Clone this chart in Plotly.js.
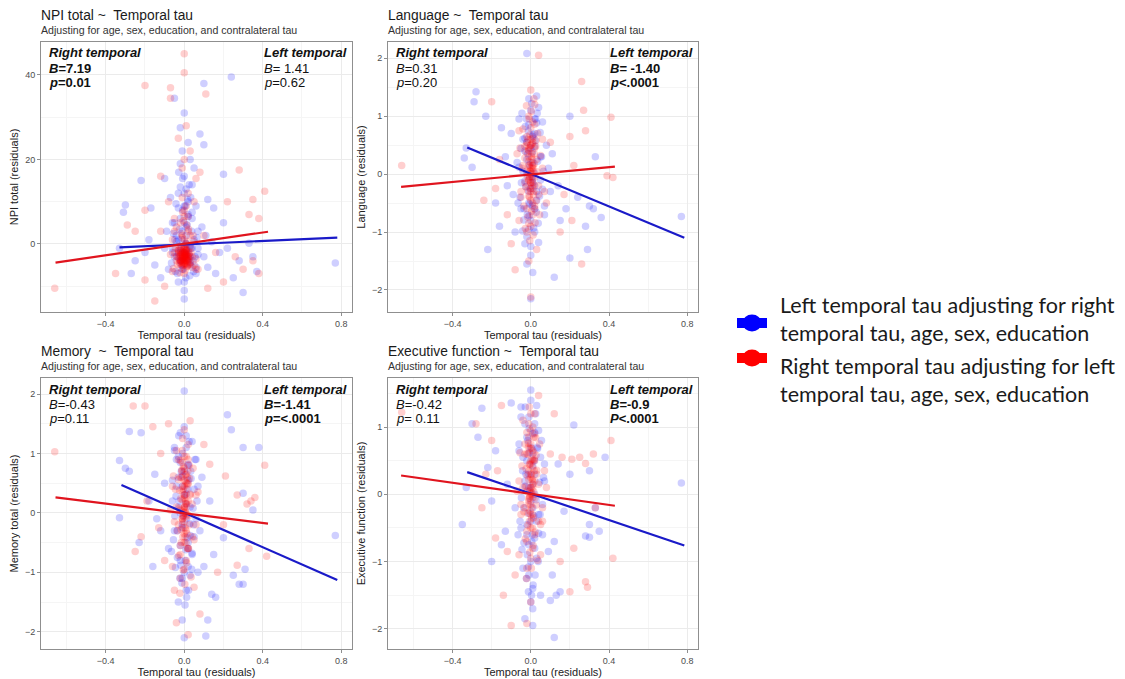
<!DOCTYPE html>
<html>
<head>
<meta charset="utf-8">
<script src="https://cdn.plot.ly/plotly-3.0.1.min.js"></script>
<style>html,body{margin:0;padding:0;background:#fff;}#chart{width:1125px;height:679px;}</style>
</head>
<body>
<div id="chart"></div>
<script>
// ---------------- DATA ----------------
const panelTitles = ["NPI total ~  Temporal tau", "Language ~  Temporal tau", "Memory  ~  Temporal tau", "Executive function ~  Temporal tau"];
const subtitle = "Adjusting for age, sex, education, and contralateral tau";
const xTitle = "Temporal tau (residuals)";
const yTitles = ["NPI total (residuals)", "Language (residuals)", "Memory total (residuals)", "Executive function (residuals)"];
const legendLabels = ["Left temporal tau adjusting for right<br>temporal tau, age, sex, education", "Right temporal tau adjusting for left<br>temporal tau, age, sex, education"];

const rightStats = [
  ["<b><i>Right temporal</i></b>", "<b><i>B</i>=7.19</b>", "<b><i>p</i>=0.01</b>"],
  ["<b><i>Right temporal</i></b>", "<i>B</i>=0.31", "<i>p</i>=0.20"],
  ["<b><i>Right temporal</i></b>", "<i>B</i>=-0.43", "<i>p</i>=0.11"],
  ["<b><i>Right temporal</i></b>", "<i>B</i>=-0.42", "<i>p</i>= 0.11"]
];
const leftStats = [
  ["<b><i>Left temporal</i></b>", "<i>B</i>= 1.41", "<i>p</i>=0.62"],
  ["<b><i>Left temporal</i></b>", "<b><i>B</i>= -1.40</b>", "<b><i>p</i>&lt;.0001</b>"],
  ["<b><i>Left temporal</i></b>", "<b><i>B</i>=-1.41</b>", "<b><i>p</i>=&lt;.0001</b>"],
  ["<b><i>Left temporal</i></b>", "<b><i>B</i>=-0.9</b>", "<b><i>P</i>&lt;.0001</b>"]
];

// regression line end points [x,y]
const npiLeftLine = [[-0.33,-0.8],[0.78,1.5]];
const npiRightLine = [[-0.656,-4.4],[0.427,2.9]];
const langLeftLine = [[-0.325,0.46],[0.785,-1.1]];
const langRightLine = [[-0.663,-0.22],[0.43,0.13]];
const memLeftLine = [[-0.32,0.47],[0.78,-1.13]];
const memRightLine = [[-0.656,0.26],[0.427,-0.18]];
const execLeftLine = [[-0.325,0.33],[0.785,-0.76]];
const execRightLine = [[-0.663,0.28],[0.43,-0.17]];

// scatter points [x,y] — spread points
const npiLeftPts = [[0.77,-4.5],[-0.33,-1],[-0.3,9.2],[-0.31,7.5],[-0.27,-7],[0.24,39.5],[0.1,38],[0.0,31],[-0.05,34.5],[0.08,26],[0.1,23.5],[0.02,24],[-0.02,27.5],[0.05,18],[0.2,16.5],[0.12,10.5],[0.15,8.5],[-0.1,15.5],[-0.22,15],[-0.17,8.5],[-0.2,-2],[-0.15,-5],[-0.12,-8],[0.3,-11.5],[0.28,-4],[0.25,-8],[0.33,0.2],[0.35,-3],[0.37,-6.5],[0.18,-2],[0.22,-1],[-0.25,-4],[0.0,-11],[0.0,-13],[-0.03,-9],[0.06,-7],[0.12,-5.5],[-0.08,-6],[0.14,0.5],[0.09,4],[-0.06,5],[0.04,6],[-0.03,8.5],[0.01,13],[0.0,16],[-0.02,19],[0.03,20],[-0.01,22],[0.0,12],[0.02,10],[-0.04,2],[0.05,1],[-0.06,-1],[0.07,-2.5],[0.03,-5],[-0.02,-4],[0.0,-2],[0.01,0],[-0.01,3],[0.02,7],[-0.05,-3],[0.1,-3],[-0.1,-1],[0.16,-7],[0.07,3],[0.0,5],[-0.01,-6],[0.04,-1],[-0.03,1],[0.11,2],[-0.09,3],[0.06,9],[-0.07,11],[0.04,14],[0.2,5],[-0.18,1],[0.03,-3],[-0.02,-1.5],[0.01,4],[0.0,9]];
const npiRightPts = [[-0.66,-10.5],[-0.2,37.5],[-0.07,37],[0.0,45],[-0.07,34.5],[0.11,35.5],[0.0,40.5],[0.01,28],[-0.03,25],[0.03,22],[0.08,17],[0.06,15.5],[0.28,17.5],[0.22,10],[0.35,10.5],[0.41,12.5],[0.33,7],[0.38,6],[-0.12,16],[-0.08,10],[-0.2,8],[-0.29,4.5],[-0.25,3],[-0.35,-7],[-0.2,-8.5],[-0.15,-13.5],[-0.1,-10],[0.12,-10.5],[0.2,-9],[0.3,-6],[0.38,-7],[0.35,-4],[0.26,-3],[0.16,-2],[0.1,2],[-0.12,3],[-0.05,6],[0.0,8],[0.02,12],[-0.01,18],[0.0,20],[0.05,10],[-0.04,4],[0.03,2],[0,-3],[0.01,-2.5],[-0.01,-3.5],[0.02,-4],[-0.02,-2],[0,-4.5],[0.01,-1.5],[-0.01,-5],[0.02,-3],[-0.02,-4],[0,-2],[0.01,-3.8],[-0.01,-2.8],[0.015,-5.2],[-0.015,-1],[0,-0.5],[0.005,-3.2],[-0.005,-4.2],[0.025,-2.2],[-0.025,-3.6],[0,1],[0.01,0],[-0.01,2],[0.03,-1],[-0.03,-1.5],[0.04,-3],[-0.04,-4],[0.05,-5],[-0.05,-2],[0.06,-6],[-0.06,-6.5],[0.0,-7],[0.02,3],[-0.02,5],[0.0,6.5],[0.01,9],[-0.01,11],[0.005,-2.6],[-0.005,-3.9],[0.012,-4.6],[-0.012,-2.4],[0.0,-3.4]];
const langLeftPts = [[0.77,-0.73],[-0.33,0.45],[-0.34,0.28],[-0.3,0.12],[-0.28,1.42],[-0.29,1.25],[-0.23,1.0],[-0.22,-1.3],[-0.18,-0.5],[-0.15,0.8],[-0.12,-0.2],[-0.1,0.7],[0.2,1.0],[0.12,-1.78],[0.2,-1.45],[0.29,-1.3],[0.3,-0.55],[0.32,-0.6],[0.33,0.3],[0.36,-0.75],[0.28,-0.9],[0.24,-0.4],[0.18,-0.6],[0.15,-0.8],[0.1,-0.3],[0.08,0.5],[0.06,0.9],[-0.06,0.95],[-0.02,2.08],[0.03,1.35],[-0.01,1.3],[0.0,1.1],[0.02,0.7],[-0.03,0.4],[0.01,0.2],[-0.02,0],[0.03,-0.3],[-0.01,-0.5],[0.0,-0.8],[0.02,-1.0],[-0.03,-1.2],[0.0,-1.4],[-0.02,-1.55],[0.0,-2.15],[0.01,-1.7],[-0.05,-0.6],[0.05,-0.1],[-0.07,0.2],[0.07,-0.7],[-0.08,-1.0],[0.09,0.1],[-0.04,0.6],[0.04,1.15],[-0.01,0.85],[0.01,-0.15],[0.0,0.45],[-0.02,0.55],[0.02,-0.6],[0.11,0.35],[-0.13,0.3],[0.14,-0.2],[-0.16,-0.9],[-0.09,-0.35],[0.05,0.3],[0.0,-0.25],[0.01,0.65],[-0.01,-0.95],[0.02,0.95]];
const langRightPts = [[-0.66,0.15],[0.04,2.05],[0.26,1.6],[0.41,0.98],[0.42,-0.06],[0.39,-0.03],[0.27,1.1],[0.28,0.75],[0.2,0.65],[0.22,0.15],[0.17,-0.35],[0.21,-0.8],[0.26,-1.55],[0.15,-1.0],[-0.08,-1.65],[-0.2,1.25],[-0.16,0.25],[-0.18,-0.25],[-0.24,-0.45],[-0.12,-0.7],[-0.1,-1.2],[-0.06,0.75],[0.0,-2.12],[-0.01,-1.5],[0.03,-1.3],[0.1,0.55],[0.08,-0.5],[-0.05,-0.3],[0.06,0.1],[0,0],[0.01,0.1],[-0.01,-0.1],[0.0,0.2],[0.005,-0.2],[-0.005,0.05],[0.01,-0.05],[-0.01,0.3],[0.0,-0.3],[0.02,0.45],[-0.02,0.5],[0.0,0.6],[0.01,0.55],[-0.01,0.4],[0.0,-0.45],[0.02,-0.55],[-0.02,-0.6],[0.01,-0.7],[0.0,0.8],[-0.01,1.0],[0.02,1.2],[0.0,-0.9],[-0.01,-0.85],[0.03,0.25],[-0.03,-0.15],[0.04,-0.35],[-0.04,0.15],[0.0,1.45],[0.01,0.9],[-0.02,-1.0],[0.005,0.02],[-0.005,-0.04],[0.0,0.5],[0.01,-0.25],[-0.01,0.15]];
const memLeftPts = [[0.77,-0.38],[-0.33,-0.08],[-0.33,0.88],[-0.3,0.75],[-0.28,0.7],[-0.28,1.37],[-0.23,-0.5],[-0.22,1.35],[-0.18,0.2],[-0.15,0.65],[-0.12,-0.3],[-0.1,0.5],[0.22,1.65],[0.24,1.4],[0.3,1.1],[0.38,1.1],[0.35,0.05],[0.3,0.33],[0.3,-1.2],[0.28,-1.2],[0.25,-1.05],[0.31,-0.95],[0.2,-0.42],[0.16,-1.42],[0.14,-1.37],[0.1,-0.9],[0.12,-1.8],[0.11,-2.07],[0.08,-0.3],[0.06,0.9],[-0.05,1.1],[0.0,2.05],[-0.02,1.35],[0.01,1.1],[0.02,0.8],[-0.03,0.6],[0.0,0.3],[0.03,0.1],[-0.01,-0.2],[0.02,-0.5],[-0.02,-0.8],[0.0,-1.0],[0.01,-1.3],[-0.03,-1.5],[0.0,-2.1],[-0.01,-1.8],[0.04,-0.7],[-0.05,-0.3],[0.05,0.4],[-0.06,0.2],[0.07,-1.0],[-0.08,-0.6],[0.09,0.6],[-0.04,0.9],[0.04,1.2],[-0.01,0.45],[0.01,-0.1],[-0.02,0.0],[0.02,-0.9],[0.13,0.2],[-0.14,-0.1],[0.15,-0.7],[-0.16,-0.9],[0.05,-0.4],[0.0,0.7],[0.01,1.3],[-0.01,-1.1],[0.02,0.55]];
const memRightPts = [[-0.66,1.03],[-0.26,1.8],[-0.2,1.8],[-0.16,1.45],[-0.19,0.2],[-0.22,-0.4],[-0.25,-0.65],[-0.13,-0.25],[-0.12,1.0],[-0.08,1.5],[0.03,1.55],[0.1,1.15],[0.13,0.82],[0.21,0.62],[0.27,0.3],[0.32,0.15],[0.34,0.2],[0.36,0.26],[0.41,0.8],[0.42,-0.73],[0.33,-0.6],[0.27,-0.88],[0.2,-0.2],[0.17,-1.0],[0.08,-1.7],[-0.04,-1.85],[0.02,-2.05],[-0.05,-1.3],[0.05,-1.25],[-0.1,-0.8],[0.06,0.3],[-0.06,0.45],[0,0],[0.01,0.1],[-0.01,-0.1],[0,0.25],[0.005,-0.25],[-0.005,0.05],[0.01,-0.05],[-0.01,0.35],[0,-0.35],[0.02,0.5],[-0.02,0.6],[0,0.75],[0.01,0.65],[-0.01,0.85],[0,-0.5],[0.02,-0.6],[-0.02,-0.7],[0.01,-0.8],[0,0.95],[-0.01,1.05],[0.02,0.2],[0,-0.95],[-0.01,-0.15],[0.03,0.3],[-0.03,-0.2],[0.04,-0.4],[-0.04,0.1],[0,1.4],[0.01,0.4],[-0.02,-1.1],[0.005,0.02],[-0.005,-0.03],[0,0.55],[0.01,-0.3]];
const execLeftPts = [[0.77,0.17],[-0.33,0.1],[-0.35,-0.45],[-0.3,1.05],[-0.27,0.85],[-0.25,1.28],[-0.22,0.4],[-0.2,-0.1],[-0.18,0.65],[-0.15,-0.75],[-0.2,-1.0],[-0.1,1.36],[0.22,1.03],[0.3,0.35],[0.38,0.55],[0.33,-0.2],[0.3,-0.45],[0.28,-0.62],[0.3,-0.64],[0.35,-0.55],[0.2,0.3],[0.17,-0.25],[0.13,-1.5],[0.12,-0.7],[0.11,-1.2],[0.15,-1.45],[0.1,-1.58],[0.12,-2.13],[0.05,-1.5],[-0.05,1.3],[0.0,1.55],[0.03,1.32],[-0.01,1.15],[0.01,0.9],[0.0,0.7],[-0.02,0.5],[0.02,0.3],[-0.01,0.1],[0.01,-0.2],[0.0,-0.4],[-0.02,-0.6],[0.02,-0.8],[0.0,-1.0],[-0.01,-1.2],[0.01,-1.4],[0.0,-1.6],[-0.03,-1.85],[0.01,-1.95],[0.04,-0.3],[-0.05,-0.5],[0.05,0.55],[-0.06,0.75],[0.07,0.2],[-0.08,-0.2],[0.09,-0.85],[-0.04,-1.1],[0.04,0.95],[-0.01,0.3],[0.02,0.0],[-0.03,0.2],[0.06,-0.6],[-0.12,0.15],[0.14,0.45],[-0.13,-0.55],[0.0,-0.1],[0.01,0.6],[-0.01,-0.75],[0.02,1.05]];
const execRightPts = [[-0.66,1.22],[-0.28,1.05],[-0.15,1.32],[-0.2,0.8],[-0.17,0.35],[-0.23,0.3],[-0.25,-0.2],[-0.18,-0.65],[-0.12,-0.85],[-0.14,-1.5],[-0.1,-1.95],[-0.08,-1.2],[0.04,1.47],[0.1,0.6],[0.12,1.2],[0.16,0.55],[0.21,0.52],[0.25,0.55],[0.28,0.46],[0.32,0.6],[0.41,0.8],[0.42,-0.95],[0.33,-0.2],[0.28,-1.3],[0.29,-1.38],[0.2,-1.45],[0.22,-0.8],[0.15,-1.0],[0.05,-0.9],[-0.02,-1.92],[0.0,-1.6],[0.08,0.1],[-0.06,0.2],[0.06,-0.4],[-0.05,-0.3],[0,0],[0.01,0.1],[-0.01,-0.1],[0,0.25],[0.005,-0.2],[-0.005,0.05],[0.01,-0.05],[-0.01,0.35],[0,-0.3],[0.02,0.5],[-0.02,0.6],[0,0.75],[0.01,0.65],[-0.01,0.85],[0,-0.5],[0.02,-0.6],[-0.02,-0.7],[0.01,-0.8],[0,0.95],[-0.01,1.05],[0.02,0.2],[0,-0.95],[-0.01,-0.15],[0.03,0.3],[-0.03,-0.2],[0.04,-0.4],[-0.04,0.1],[0,1.2],[0.01,0.4],[-0.02,-1.1],[0.005,0.02],[-0.005,-0.03],[0,0.5],[0.01,-0.3]];

// dense central column of points [x,y]
const npiLeftCore = [[-0.03,-2],[0.02,-3.5],[-0.015,-5],[0.035,-1],[-0.04,0.5],[0.01,2],[-0.025,3.5],[0.045,-4],[-0.005,-6],[0.028,-7.5],[-0.036,-3],[0.015,4.5],[-0.02,6],[0.04,7.5],[0.005,9],[-0.045,-6.5],[0.03,-0.5],[-0.012,1],[0.022,-2.5],[-0.05,5],[0.055,-3],[-0.008,8],[0.018,10.5],[-0.03,12],[0.06,-5.5],[-0.055,2.5],[0.008,-8],[-0.018,-4],[0.038,3],[-0.042,9.5],[0.025,14],[-0.028,17],[0.012,-1.5],[-0.06,-2],[0.065,1.5],[-0.01,-3.2],[0.03,-4.5],[-0.035,-7],[0.0,-9],[0.02,6.5],[-0.02,13.5],[0.048,-6.5],[-0.048,1],[0.008,0.2],[-0.065,-4.5],[0.07,-1],[0.004,-2.2],[-0.022,-1],[0.033,11],[-0.008,15.5]];
const npiRightCore = [[0.01,-3],[-0.02,-2.5],[0.025,-3.6],[-0.012,-4.2],[0.005,-1.8],[-0.03,-3.2],[0.018,-5],[-0.006,-2],[0.03,-4.4],[-0.018,-5.6],[0.008,-1.2],[-0.025,-0.5],[0.015,0.5],[-0.01,1.5],[0.028,-2.8],[-0.035,-4.8],[0.004,-6.2],[-0.015,2.5],[0.022,3.5],[-0.028,-1.5],[0.012,4.5],[-0.005,5.5],[0.035,-2],[-0.04,-3],[0.02,6.5],[-0.008,7.5],[0.003,-0.8],[-0.022,-6.8],[0.016,-3.8],[0.04,-5.5],[-0.045,-1],[0.05,0.5],[-0.05,3],[0.0,-2.6],[0.012,-3.4],[-0.012,-2.2],[0.006,-4.6],[-0.003,-3.6],[0.02,-1.6],[-0.02,-4.4],[0.0,-3.8],[0.008,-2.4],[-0.006,-5.2],[0.0,-1.2],[0.045,2],[-0.055,-5.8],[0.06,-3.5],[-0.06,1],[0.07,-6],[-0.07,-2.5]];
const langLeftCore = [[-0.03,0.62],[0.02,0.48],[-0.015,0.35],[0.035,0.22],[-0.04,0.05],[0.01,-0.08],[-0.025,-0.22],[0.045,-0.38],[-0.005,-0.52],[0.028,-0.66],[-0.036,-0.79],[0.015,-0.93],[-0.02,-1.08],[0.04,-1.18],[0.005,1.22],[-0.045,1.05],[0.03,0.88],[-0.012,0.74],[0.022,0.58],[-0.05,0.44],[0.055,0.3],[-0.008,0.16],[0.018,0.02],[-0.03,-0.12],[0.06,-0.26],[-0.055,-0.4],[0.008,-0.55],[-0.018,-0.7],[0.038,-0.85],[-0.042,-0.98],[0.025,0.95],[-0.028,0.82],[0.012,0.68],[-0.06,0.12],[0.065,0.05],[-0.01,-0.3],[0.03,-0.45],[-0.035,-0.6],[0.0,-1.25],[0.02,-0.2],[-0.02,0.25],[0.048,0.72],[-0.048,-0.15],[0.008,0.38],[-0.065,-0.5],[0.07,-0.55],[0.004,-0.05],[-0.022,0.95],[0.033,1.05],[-0.008,-0.72]];
const langRightCore = [[0.01,0.62],[-0.02,0.55],[0.025,0.48],[-0.012,0.42],[0.005,0.35],[-0.03,0.28],[0.018,0.18],[-0.006,0.12],[0.03,0.04],[-0.018,-0.04],[0.008,-0.14],[-0.025,-0.22],[0.015,-0.3],[-0.01,-0.38],[0.028,-0.46],[-0.035,-0.55],[0.004,-0.64],[-0.015,-0.74],[0.022,-0.84],[-0.028,-0.94],[0.012,-1.05],[-0.005,-1.15],[0.035,0.7],[-0.04,0.78],[0.02,0.86],[-0.008,0.95],[0.003,1.08],[-0.022,1.18],[0.016,1.3],[0.04,-0.2],[-0.045,0.1],[0.05,0.32],[-0.05,-0.4],[0.0,0.5],[0.012,0.05],[-0.012,-0.1],[0.006,0.25],[-0.003,-0.25],[0.02,-0.6],[-0.02,0.65],[0.0,0.05],[0.008,0.15],[-0.006,-0.05],[0.0,-0.15],[0.045,-0.7],[-0.055,0.45],[0.06,0.6],[-0.06,-0.8],[0.07,-0.3],[-0.07,0.35]];
const memLeftCore = [[-0.03,0.95],[0.02,0.82],[-0.015,0.7],[0.035,0.58],[-0.04,0.45],[0.01,0.32],[-0.025,0.2],[0.045,0.08],[-0.005,-0.05],[0.028,-0.18],[-0.036,-0.3],[0.015,-0.42],[-0.02,-0.55],[0.04,-0.68],[0.005,-0.8],[-0.045,-0.92],[0.03,-1.05],[-0.012,-1.18],[0.022,-1.3],[-0.05,1.05],[0.055,0.9],[-0.008,0.62],[0.018,0.4],[-0.03,0.1],[0.06,-0.1],[-0.055,-0.45],[0.008,-0.62],[-0.018,-0.88],[0.038,-0.95],[-0.042,0.28],[0.025,1.2],[-0.028,1.3],[0.012,-1.42],[-0.06,0.55],[0.065,0.2],[-0.01,-0.25],[0.03,-0.38],[-0.035,-0.75],[0.0,1.45],[0.02,-0.6],[-0.02,0.85],[0.048,-0.2],[-0.048,-0.05],[0.008,0.15],[-0.065,-0.65],[0.07,0.45],[0.004,-1.55],[-0.022,-1.1],[0.033,0.7],[-0.008,1.0]];
const memRightCore = [[0.01,0.95],[-0.02,0.88],[0.025,0.8],[-0.012,0.72],[0.005,0.64],[-0.03,0.56],[0.018,0.48],[-0.006,0.4],[0.03,0.32],[-0.018,0.24],[0.008,0.16],[-0.025,0.08],[0.015,-0.02],[-0.01,-0.1],[0.028,-0.2],[-0.035,-0.3],[0.004,-0.4],[-0.015,-0.5],[0.022,-0.6],[-0.028,-0.72],[0.012,-0.84],[-0.005,-0.96],[0.035,-1.08],[-0.04,1.05],[0.02,1.15],[-0.008,1.25],[0.003,-1.2],[-0.022,-1.35],[0.016,0.6],[0.04,0.15],[-0.045,0.4],[0.05,-0.45],[-0.05,-0.15],[0.0,0.3],[0.012,0.5],[-0.012,0.7],[0.006,0.0],[-0.003,-0.25],[0.02,0.9],[-0.02,-0.55],[0.0,0.1],[0.008,0.2],[-0.006,-0.05],[0.0,0.45],[0.045,0.75],[-0.055,0.62],[0.06,-0.2],[-0.06,-0.9],[0.07,0.35],[-0.07,0.05]];
const execLeftCore = [[-0.03,1.05],[0.02,0.92],[-0.015,0.8],[0.035,0.68],[-0.04,0.55],[0.01,0.42],[-0.025,0.3],[0.045,0.18],[-0.005,0.05],[0.028,-0.08],[-0.036,-0.2],[0.015,-0.32],[-0.02,-0.45],[0.04,-0.58],[0.005,-0.7],[-0.045,-0.82],[0.03,-0.95],[-0.012,-1.08],[0.022,-1.2],[-0.05,1.15],[0.055,0.8],[-0.008,0.62],[0.018,0.5],[-0.03,0.12],[0.06,-0.15],[-0.055,-0.4],[0.008,-0.6],[-0.018,-0.9],[0.038,-1.0],[-0.042,0.35],[0.025,1.2],[-0.028,1.3],[0.012,-1.35],[-0.06,0.65],[0.065,0.25],[-0.01,-0.28],[0.03,-0.4],[-0.035,-0.72],[0.0,1.4],[0.02,-0.65],[-0.02,0.85],[0.048,-0.3],[-0.048,-0.05],[0.008,0.15],[-0.065,-0.6],[0.07,0.45],[0.004,-1.5],[-0.022,-1.25],[0.033,0.7],[-0.008,0.98],[0.01,-1.7],[-0.012,-1.45]];
const execRightCore = [[0.01,1.0],[-0.02,0.92],[0.025,0.84],[-0.012,0.76],[0.005,0.68],[-0.03,0.6],[0.018,0.52],[-0.006,0.44],[0.03,0.36],[-0.018,0.28],[0.008,0.2],[-0.025,0.12],[0.015,0.04],[-0.01,-0.06],[0.028,-0.16],[-0.035,-0.26],[0.004,-0.36],[-0.015,-0.46],[0.022,-0.56],[-0.028,-0.66],[0.012,-0.76],[-0.005,-0.86],[0.035,-0.98],[-0.04,1.1],[0.02,1.2],[-0.008,1.3],[0.003,-1.1],[-0.022,-1.25],[0.016,0.62],[0.04,0.15],[-0.045,0.42],[0.05,-0.45],[-0.05,-0.15],[0.0,0.3],[0.012,0.5],[-0.012,0.7],[0.006,0.0],[-0.003,-0.25],[0.02,0.9],[-0.02,-0.55],[0.0,0.1],[0.008,0.22],[-0.006,-0.05],[0.0,0.45],[0.045,0.75],[-0.055,0.62],[0.06,-0.2],[-0.06,-0.9],[0.07,0.35],[-0.07,0.05]];

// densest red centre [x,y]
const npiRightDense = [[0.004,-2.9],[-0.008,-3.3],[0.012,-2.1],[-0.014,-3.9],[0.018,-4.1],[-0.02,-2.7],[0.0,-4.9],[0.007,-1.6],[-0.01,-1.9],[0.022,-3.1],[-0.024,-4.5],[0.014,-5.4],[-0.004,-0.9],[0.009,-3.7],[-0.016,-3.0],[0.027,-4.8],[-0.03,-2.3],[0.001,-2.3],[0.016,-2.7],[-0.007,-4.6]];
const langRightDense = [[0.004,0.3],[-0.008,0.45],[0.012,0.15],[-0.014,0.6],[0.018,0.35],[-0.02,0.05],[0.0,-0.15],[0.007,0.52],[-0.01,0.22],[0.022,-0.05],[-0.024,0.38],[0.014,-0.35],[-0.004,0.68],[0.009,-0.5],[-0.016,-0.28],[0.027,0.58],[-0.03,0.48],[0.001,0.1],[0.016,-0.18],[-0.007,-0.4]];
const memRightDense = [[0.004,0.3],[-0.008,0.45],[0.012,0.15],[-0.014,0.6],[0.018,0.7],[-0.02,0.05],[0.0,-0.15],[0.007,0.52],[-0.01,0.22],[0.022,-0.05],[-0.024,0.38],[0.014,-0.35],[-0.004,0.78],[0.009,-0.5],[-0.016,-0.28],[0.027,0.58],[-0.03,0.9],[0.001,0.1],[0.016,-0.6],[-0.007,-0.4]];
const execRightDense = [[0.004,0.3],[-0.008,0.45],[0.012,0.15],[-0.014,0.6],[0.018,0.35],[-0.02,0.05],[0.0,-0.15],[0.007,0.52],[-0.01,0.22],[0.022,-0.05],[-0.024,0.38],[0.014,-0.35],[-0.004,0.68],[0.009,-0.5],[-0.016,-0.28],[0.027,0.58],[-0.03,0.75],[0.001,0.1],[0.016,0.85],[-0.007,-0.4]];

const yRanges = [[-16.1,47.8],[-2.38,2.28],[-2.29,2.27],[-2.30,1.73]];
const yDticks = [20,1,1,1];
const xRange = [-0.73,0.855];

// ---------------- LAYOUT / DRAW ----------------
const W = 1125, H = 679;
const PX = x => x / W;
const PY = y => 1 - y / H;
const BLUE = '#0000ff', RED = '#ff0000';
const LBLUE = '#1a1ac8', LRED = '#e0141e';

const boxes = [[41,352,42,312],[388,698,42,312],[41,352,378,649],[388,698,378,649]];
const leftSets = [npiLeftPts.concat(npiLeftCore), langLeftPts.concat(langLeftCore), memLeftPts.concat(memLeftCore), execLeftPts.concat(execLeftCore)];
const rightSets = [npiRightPts.concat(npiRightCore, npiRightDense), langRightPts.concat(langRightCore, langRightDense), memRightPts.concat(memRightCore, memRightDense), execRightPts.concat(execRightCore, execRightDense)];
const leftLines = [npiLeftLine, langLeftLine, memLeftLine, execLeftLine];
const rightLines = [npiRightLine, langRightLine, memRightLine, execRightLine];

const FONT = 'Liberation Sans, Arial, sans-serif';
const data = [];
const layout = {
  width: W, height: H,
  margin: {l:0, r:0, t:0, b:0},
  paper_bgcolor: '#fff', plot_bgcolor: '#fff',
  showlegend: false,
  font: {family: FONT, color: '#222'},
  annotations: [], shapes: []
};

boxes.forEach((b, i) => {
  const n = i + 1;
  const xa = 'x' + (n === 1 ? '' : n), ya = 'y' + (n === 1 ? '' : n);
  const xk = 'xaxis' + (n === 1 ? '' : n), yk = 'yaxis' + (n === 1 ? '' : n);
  const common = {
    showgrid: true, gridcolor: '#ebebeb', gridwidth: 1,
    zeroline: false, showline: true, mirror: true, linecolor: '#8f8f8f', linewidth: 1,
    ticks: 'outside', ticklen: 3, tickcolor: '#8f8f8f', tickwidth: 1,
    tickfont: {size: 9, color: '#4d4d4d', family: FONT}, fixedrange: true
  };
  layout[xk] = Object.assign({}, common, {
    domain: [PX(b[0]), PX(b[1])], anchor: ya, range: xRange,
    tick0: 0, dtick: 0.4, tickformat: '.1f',
    minor: {dtick: 0.2, showgrid: true, gridcolor: '#f5f5f5', gridwidth: 1},
    title: {text: xTitle, font: {size: 11, color: '#222', family: FONT}, standoff: 2}
  });
  layout[yk] = Object.assign({}, common, {
    domain: [PY(b[3]), PY(b[2])], anchor: xa, range: yRanges[i],
    tick0: 0, dtick: yDticks[i],
    minor: {dtick: yDticks[i] / 2, showgrid: true, gridcolor: '#f5f5f5', gridwidth: 1},
    title: {text: yTitles[i], font: {size: 11, color: '#222', family: FONT}, standoff: 4}
  });

  const mk = (pts, color) => ({
    type: 'scatter', mode: 'markers', xaxis: xa, yaxis: ya,
    x: pts.map(p => p[0]), y: pts.map(p => p[1]),
    marker: {size: 7.5, color: color, opacity: 0.19, line: {width: 0}},
    hoverinfo: 'skip'
  });
  data.push(mk(leftSets[i], BLUE));
  data.push(mk(rightSets[i], RED));
  const ln = (pts, color) => ({
    type: 'scatter', mode: 'lines', xaxis: xa, yaxis: ya,
    x: pts.map(p => p[0]), y: pts.map(p => p[1]),
    line: {color: color, width: 2.2}, hoverinfo: 'skip'
  });
  data.push(ln(leftLines[i], LBLUE));
  data.push(ln(rightLines[i], LRED));

  layout.annotations.push({xref:'paper', yref:'paper', x: PX(b[0] - 2), y: PY(b[2] - 27), xanchor:'left', yanchor:'middle',
    text: panelTitles[i], showarrow:false, font:{size:13.8, color:'#1a1a1a', family: FONT}});
  layout.annotations.push({xref:'paper', yref:'paper', x: PX(b[0] - 2), y: PY(b[2] - 12), xanchor:'left', yanchor:'middle',
    text: subtitle, showarrow:false, font:{size:10.6, color:'#333', family: FONT}});

  const lineY = [11, 26.5, 40.5];
  rightStats[i].forEach((t, k) => {
    layout.annotations.push({xref:'paper', yref:'paper', x: PX(b[0] + 6), y: PY(b[2] + lineY[k]), xanchor:'left', yanchor:'middle',
      text: t, showarrow:false, font:{size:13, color:'#111', family: FONT}});
  });
  leftStats[i].forEach((t, k) => {
    layout.annotations.push({xref:'paper', yref:'paper', x: PX(b[1] - 90), y: PY(b[2] + lineY[k]), xanchor:'left', yanchor:'middle',
      text: t, showarrow:false, font:{size:13, color:'#111', family: FONT}});
  });
});

const legendColors = [BLUE, RED];
const keyCenters = [323, 358];
const textCenters = [318.5, 379.5];
legendColors.forEach((c, k) => {
  const cy = keyCenters[k];
  layout.shapes.push({type:'rect', xref:'paper', yref:'paper', x0: PX(737), x1: PX(767), y0: PY(cy + 5), y1: PY(cy - 5),
    fillcolor: c, line:{width:0}});
  layout.shapes.push({type:'circle', xref:'paper', yref:'paper', x0: PX(742.5), x1: PX(761.5), y0: PY(cy + 8.5), y1: PY(cy - 8.5),
    fillcolor: c, line:{width:0}});
  layout.annotations.push({xref:'paper', yref:'paper', x: PX(778), y: PY(textCenters[k]), xanchor:'left', yanchor:'middle', align:'left',
    text: legendLabels[k], showarrow:false, font:{size:21.5, color:'#1a1a1a', family:'Lato, Carlito, sans-serif'}});
});

Plotly.newPlot('chart', data, layout, {staticPlot: true, displayModeBar: false});
</script>
</body>
</html>
